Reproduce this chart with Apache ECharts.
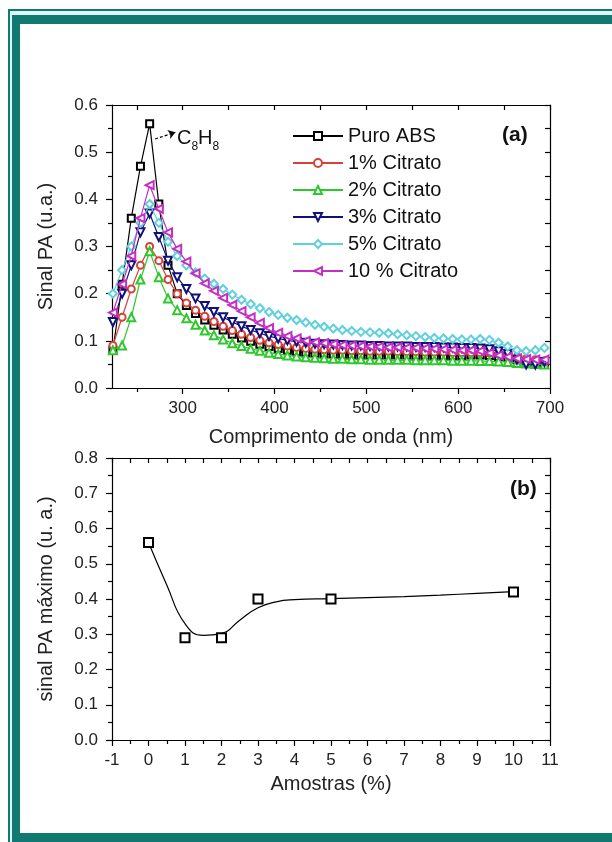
<!DOCTYPE html>
<html>
<head>
<meta charset="utf-8">
<script src="https://cdn.jsdelivr.net/npm/echarts@6/dist/echarts.min.js"></script>
<style>
html,body{margin:0;padding:0;background:#fff;}
#chart{width:612px;height:842px;}
</style>
</head>
<body>
<div id="chart"></div>
<script>
// ---------- Data (a) ----------
const wavelengths = [224,234,244,254,264,274,284,294,304,314,324,334,344,354,364,374,384,394,404,414,424,434,444,454,464,474,484,494,504,514,524,534,544,554,564,574,584,594,604,614,624,634,644,654,664,674,684,694];
const puroABS = [0.08,0.22,0.36,0.47,0.56,0.39,0.26,0.20,0.175,0.158,0.144,0.133,0.123,0.114,0.106,0.099,0.093,0.088,0.084,0.080,0.077,0.075,0.073,0.072,0.071,0.070,0.070,0.069,0.069,0.069,0.068,0.068,0.068,0.068,0.068,0.068,0.068,0.068,0.069,0.070,0.070,0.069,0.067,0.065,0.060,0.055,0.052,0.050];
const citrato1 = [0.09,0.15,0.21,0.26,0.30,0.27,0.23,0.20,0.18,0.165,0.152,0.141,0.131,0.122,0.114,0.107,0.101,0.096,0.092,0.089,0.086,0.084,0.082,0.081,0.080,0.080,0.079,0.079,0.078,0.078,0.078,0.077,0.077,0.077,0.076,0.076,0.076,0.075,0.075,0.075,0.075,0.074,0.072,0.070,0.066,0.062,0.060,0.058];
const citrato2 = [0.08,0.09,0.15,0.23,0.29,0.235,0.19,0.165,0.148,0.134,0.122,0.112,0.103,0.095,0.089,0.083,0.079,0.075,0.072,0.069,0.067,0.065,0.064,0.063,0.062,0.062,0.061,0.061,0.060,0.060,0.060,0.060,0.060,0.059,0.059,0.059,0.059,0.058,0.058,0.058,0.057,0.057,0.056,0.055,0.053,0.052,0.051,0.050];
const citrato3 = [0.14,0.20,0.26,0.33,0.37,0.32,0.27,0.235,0.21,0.19,0.174,0.161,0.150,0.140,0.131,0.123,0.116,0.110,0.105,0.101,0.098,0.096,0.094,0.093,0.092,0.091,0.090,0.090,0.089,0.089,0.088,0.088,0.088,0.087,0.087,0.087,0.086,0.086,0.085,0.085,0.084,0.082,0.078,0.072,0.060,0.050,0.050,0.055];
const citrato5 = [0.20,0.25,0.30,0.35,0.39,0.35,0.31,0.28,0.26,0.245,0.232,0.221,0.210,0.198,0.187,0.178,0.169,0.161,0.155,0.149,0.144,0.139,0.134,0.130,0.126,0.123,0.121,0.119,0.118,0.117,0.116,0.114,0.112,0.110,0.108,0.106,0.105,0.104,0.103,0.103,0.104,0.102,0.096,0.088,0.080,0.078,0.080,0.085];
const citrato10 = [0.16,0.22,0.28,0.36,0.43,0.38,0.33,0.295,0.268,0.243,0.222,0.206,0.191,0.176,0.163,0.150,0.138,0.127,0.117,0.110,0.105,0.100,0.097,0.095,0.093,0.091,0.090,0.089,0.088,0.087,0.086,0.086,0.085,0.085,0.084,0.083,0.082,0.081,0.080,0.080,0.078,0.074,0.069,0.066,0.063,0.061,0.060,0.060];
const seriesNames = ['Puro ABS','1% Citrato','2% Citrato','3% Citrato','5% Citrato','10 % Citrato'];
const xTicksA = [300,400,500,600,700];
const xMinorA = [250,350,450,550,650];
const yTicksA = [0.0,0.1,0.2,0.3,0.4,0.5,0.6];

// ---------- Data (b) ----------
const amostras = [0,1,2,3,5,10];
const sinalMax = [0.56,0.29,0.29,0.40,0.40,0.42];
const fitX = [0,0.5,1,1.5,2,2.5,3,3.5,4,5,6,7,8,9,10];
const fitY = [0.56,0.44,0.33,0.297,0.302,0.34,0.375,0.392,0.398,0.401,0.404,0.407,0.411,0.416,0.421];

const FONT = 'Liberation Sans, Arial, sans-serif';
const chart = echarts.init(document.getElementById('chart'), null, {renderer:'canvas'});

const pair = (xs, ys) => xs.map((x,i)=>[x, ys[i]]);

const colors = ['#000000','#d8403a','#2ec82e','#10107a','#5fd0dc','#c52ec5'];
const symbols = ['emptyRect','emptyCircle','emptyTriangle','emptyTriangle','emptyDiamond','emptyTriangle'];
const rotates = [0,0,0,180,0,90];
const sizes = [7,7,8,8,8,8];
const dataA = [puroABS,citrato1,citrato2,citrato3,citrato5,citrato10];

const axisLineStyle = {color:'#000', width:1.2};
const gridA = {left:112, top:105, width:438, height:283};
const gridB = {left:112, top:458, width:438, height:282};

const seriesA = dataA.map((d,k)=>{
  const s = {
    name: seriesNames[k], type:'line', xAxisIndex:0, yAxisIndex:0,
    data: pair(wavelengths, d),
    symbol: symbols[k], symbolSize: sizes[k], symbolRotate: rotates[k],
    showAllSymbol: true,
    lineStyle:{color:colors[k], width:1.2},
    itemStyle:{color:colors[k], borderWidth:1.2},
    z: 2 + k, animation:false
  };
  if (k === 0) {
    s.markLine = {
      silent:true, symbol:['none','arrow'], symbolSize:[7,7],
      label:{show:false},
      lineStyle:{color:'#000', type:[3,2], width:1.2},
      data:[[{coord:[270,0.528]},{coord:[292,0.542]}]]
    };
  }
  return s;
});

const option = {
  backgroundColor:'#fff',
  animation:false,
  textStyle:{fontFamily:FONT},
  grid:[gridA, gridB],
  legend:{
    data: seriesNames,
    orient:'vertical', left:287, top:121,
    itemWidth:50, itemHeight:10, itemGap:7,
    textStyle:{fontFamily:FONT, fontSize:20, color:'#111', lineHeight:18, height:18, padding:[0,0,0,0]},
    inactiveColor:'#ccc'
  },
  xAxis:[
    { // 0: main bottom (a)
      type:'value', gridIndex:0, min:223, max:700, position:'bottom',
      axisLine:{show:true, onZero:false, lineStyle:axisLineStyle},
      axisTick:{show:true, inside:false, length:6, customValues:xTicksA, lineStyle:axisLineStyle},
      axisLabel:{show:true, customValues:xTicksA, margin:12, fontSize:17, color:'#222', fontFamily:FONT},
      splitLine:{show:false},
      name:'Comprimento de onda (nm)', nameLocation:'middle', nameGap:39,
      nameTextStyle:{fontSize:20, color:'#222', fontFamily:FONT}
    },
    { // 1: top mirror (a)
      type:'value', gridIndex:0, min:223, max:700, position:'top',
      axisLine:{show:true, onZero:false, lineStyle:axisLineStyle},
      axisTick:{show:true, inside:true, length:5, customValues:[250,300,350,400,450,500,550,600,650,700], lineStyle:axisLineStyle},
      axisLabel:{show:false}, splitLine:{show:false}
    },
    { // 2: minor ticks bottom (a)
      type:'value', gridIndex:0, min:223, max:700, position:'bottom',
      axisLine:{show:false, onZero:false},
      axisTick:{show:true, inside:false, length:4, customValues:xMinorA, lineStyle:axisLineStyle},
      axisLabel:{show:false}, splitLine:{show:false}
    },
    { // 3: main bottom (b)
      type:'value', gridIndex:1, min:-1, max:11, interval:1, position:'bottom',
      axisLine:{show:true, onZero:false, lineStyle:axisLineStyle},
      axisTick:{show:true, inside:false, length:6, lineStyle:axisLineStyle},
      minorTick:{show:true, splitNumber:2, length:4, lineStyle:{color:'#000', width:1.2}},
      axisLabel:{show:true, margin:12, fontSize:17, color:'#222', fontFamily:FONT},
      splitLine:{show:false},
      name:'Amostras (%)', nameLocation:'middle', nameGap:34,
      nameTextStyle:{fontSize:20, color:'#222', fontFamily:FONT}
    },
    { // 4: top mirror (b)
      type:'value', gridIndex:1, min:-1, max:11, interval:0.5, position:'top',
      axisLine:{show:true, onZero:false, lineStyle:axisLineStyle},
      axisTick:{show:true, inside:true, length:5, lineStyle:axisLineStyle},
      axisLabel:{show:false}, splitLine:{show:false}
    }
  ],
  yAxis:[
    { // 0: left (a)
      type:'value', gridIndex:0, min:0, max:0.6, interval:0.1, position:'left',
      axisLine:{show:true, onZero:false, lineStyle:axisLineStyle},
      axisTick:{show:true, inside:false, length:6, lineStyle:axisLineStyle},
      minorTick:{show:true, splitNumber:2, length:4, lineStyle:{color:'#000', width:1.2}},
      axisLabel:{show:true, margin:14, fontSize:17, color:'#222', fontFamily:FONT, formatter:v=>v.toFixed(1)},
      splitLine:{show:false},
      name:'Sinal PA (u.a.)', nameLocation:'middle', nameGap:56, nameRotate:90,
      nameTextStyle:{fontSize:20, color:'#222', fontFamily:FONT}
    },
    { // 1: right mirror (a)
      type:'value', gridIndex:0, min:0, max:0.6, interval:0.05, position:'right',
      axisLine:{show:true, onZero:false, lineStyle:axisLineStyle},
      axisTick:{show:true, inside:true, length:5, lineStyle:axisLineStyle},
      axisLabel:{show:false}, splitLine:{show:false}
    },
    { // 2: left (b)
      type:'value', gridIndex:1, min:0, max:0.8, interval:0.1, position:'left',
      axisLine:{show:true, onZero:false, lineStyle:axisLineStyle},
      axisTick:{show:true, inside:false, length:6, lineStyle:axisLineStyle},
      minorTick:{show:true, splitNumber:2, length:4, lineStyle:{color:'#000', width:1.2}},
      axisLabel:{show:true, margin:14, fontSize:17, color:'#222', fontFamily:FONT, formatter:v=>v.toFixed(1)},
      splitLine:{show:false},
      name:'sinal PA máximo (u. a.)', nameLocation:'middle', nameGap:56, nameRotate:90,
      nameTextStyle:{fontSize:20, color:'#222', fontFamily:FONT}
    },
    { // 3: right mirror (b)
      type:'value', gridIndex:1, min:0, max:0.8, interval:0.05, position:'right',
      axisLine:{show:true, onZero:false, lineStyle:axisLineStyle},
      axisTick:{show:true, inside:true, length:5, lineStyle:axisLineStyle},
      axisLabel:{show:false}, splitLine:{show:false}
    }
  ],
  series: seriesA.concat([
    {
      name:'ajuste', type:'line', xAxisIndex:3, yAxisIndex:2,
      data: pair(fitX, fitY), smooth:0.5, symbol:'none',
      lineStyle:{color:'#000', width:1.2}, z:2
    },
    {
      name:'máximo', type:'line', xAxisIndex:3, yAxisIndex:2,
      data: pair(amostras, sinalMax), symbol:'emptyRect', symbolSize:9,
      lineStyle:{opacity:0}, itemStyle:{color:'#000', borderWidth:1.5}, z:3
    }
  ]),
  graphic:[
    {type:'rect', shape:{x:8, y:9, width:604, height:2}, style:{fill:'#117a70'}, silent:true},
    {type:'rect', shape:{x:8, y:9, width:2, height:833}, style:{fill:'#117a70'}, silent:true},
    {type:'rect', shape:{x:10, y:11, width:602, height:4}, style:{fill:'#dff6f6'}, silent:true},
    {type:'rect', shape:{x:10, y:11, width:2, height:831}, style:{fill:'#dff6f6'}, silent:true},
    {type:'rect', shape:{x:12, y:15, width:600, height:9}, style:{fill:'#117a70'}, silent:true},
    {type:'rect', shape:{x:12, y:15, width:8, height:827}, style:{fill:'#117a70'}, silent:true},
    {type:'rect', shape:{x:12, y:833, width:600, height:9}, style:{fill:'#117a70'}, silent:true},
    {type:'text', left:502, top:125, style:{text:'(a)', font:'bold 21px Liberation Sans, Arial, sans-serif', fill:'#111'}},
    {type:'text', left:510, top:479, style:{text:'(b)', font:'bold 21px Liberation Sans, Arial, sans-serif', fill:'#111'}},
    {type:'text', left:177, top:128, style:{
      text:'{n|C}{s|8}{n|H}{s|8}',
      rich:{
        n:{fontSize:20, fontFamily:FONT, fill:'#111', verticalAlign:'bottom', lineHeight:20},
        s:{fontSize:12, fontFamily:FONT, fill:'#111', verticalAlign:'bottom', padding:[0,0,-5,0], lineHeight:12}
      }
    }}
  ]
};
chart.setOption(option);
</script>
</body>
</html>
